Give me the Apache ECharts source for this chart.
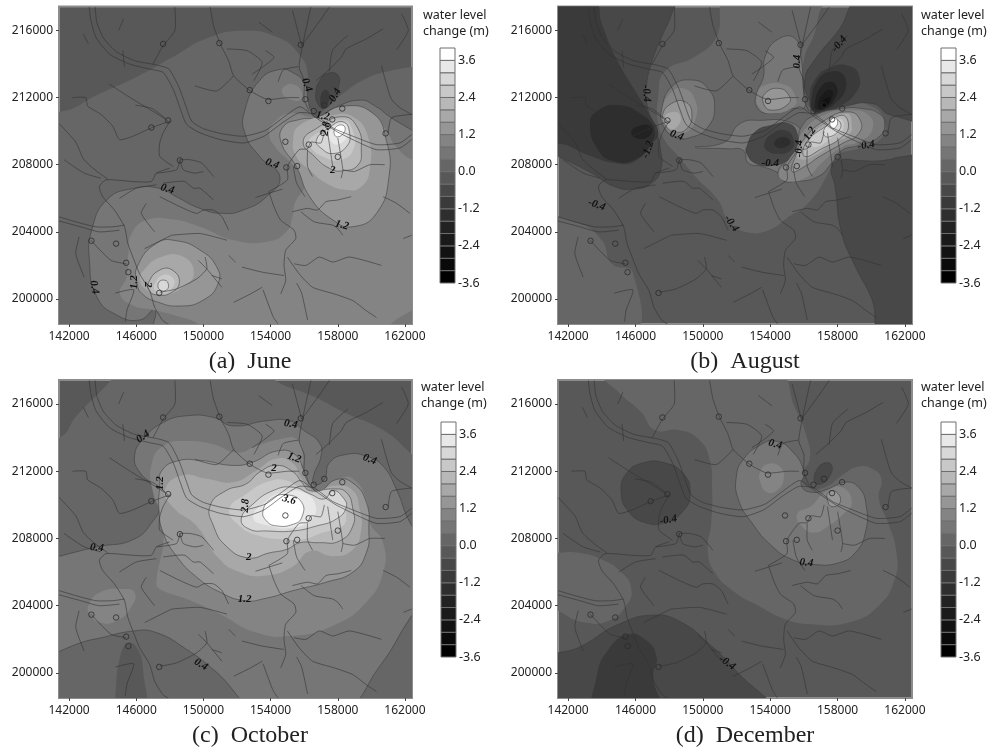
<!DOCTYPE html>
<html><head><meta charset="utf-8">
<style>html,body{margin:0;padding:0;background:#fff}#c{width:991px;height:752px}</style>
<script src="https://cdn.jsdelivr.net/npm/echarts@6/dist/echarts.min.js"></script>
</head><body><div id="c"></div>
<script>
// axis tick values (metres)
const xTicks=[142000,146000,150000,154000,158000,162000];
const yTicks=[200000,204000,208000,212000,216000];
// legend: lower bound of each colour class (m), its grey, and labelled values
const bandLevels=[-3.6,-3.2,-2.8,-2.4,-2.0,-1.6,-1.2,-0.8,-0.4,0,0.4,0.8,1.2,1.6,2.0,2.4,2.8,3.2,3.6];
const bandGreys=['#000','#0a0a0a','#121212','#1a1a1a','#222','#2e2e2e','#3a3a3a','#484848','#585858','#666666','#767676','#848484','#969696','#a8a8a8','#b8b8b8','#c8c8c8','#d8d8d8','#e8e8e8','#fff'];
const legendTicks=[-3.6,-2.4,-1.2,0,1.2,2.4,3.6];
const contourLevels=[-0.8,0.4,1.2,2,2.8,3.6];
// observation wells, km (x,y)
const wells=[147.6,215.2,150.95,215.25,155.8,215.15,152.76,212.45,153.87,211.8,156.07,211.9,156.57,211.2,157.2,211.55,158.27,211.35,157.67,210.7,160.85,209.87,154.88,209.37,156.27,209.2,158,208.47,154.94,207.84,155.58,207.92,148.6,208.26,147.9,210.64,146.9,210.22,143.33,203.47,144.8,203.3,145.4,202.16,145.53,201.6,147.37,200.36];
const juneExtraWells=[157.43,210.3,157.12,209.9];
// river network, km (x,y polylines)
const rivers=[
[143.2,217.4,143.3,216.6,143.6,215.6,144.4,214.6,145.6,214,146.8,213.7,147.6,213.5,148.2,212.5,148.6,211.4,149,210.4,149.8,209.9,151,209.5,152.4,209.3,153.6,209.7,154.7,210.5,155.7,211.1,156.6,211,157.7,210.2,158.9,209.7,160.3,209.2,161.7,209.3,162.4,209.8],
[143.55,217.4,143.65,216.5,144.05,215.55,144.8,214.75,145.9,214.2,147.2,213.95,147.95,213.7,148.55,212.6,148.95,211.5,149.3,210.6,150,210.15,151.1,209.85,152.4,209.7,153.7,210.05,154.8,210.85,155.75,211.45,156.7,210.8,157.9,210,159.1,209.4,160.3,208.9,161.7,209,162.4,209.5],
[141.4,204.9,142.4,204.6,143.6,204.3,144.6,204.3,145.3,204.4],
[141.4,204.65,142.7,204.3,143.8,204,145,204.1],
[148,207.8,147.2,207.5,146.9,207,145.8,207,144.2,207.1,143.8,206.7,144,206.1,144.7,205.3,145.3,204.3,145.5,203.3,145.8,202.5,146.2,201.5,146.8,200.5,147.1,199.5,147.6,198.7,148.1,198.4],
[153.9,206.4,154.2,205.5,154.6,204.7,155.4,204.1,155.5,203.6,154.9,202.9,154.8,202,154.9,201.1,154.6,200.3],
[153.9,206.4,155,207.1,155,207.9,155.7,208.9,156.2,208.95,156.4,209.35,157,209.3,157.2,210],
[155,202.5,155.7,201.5,156.5,200.7,157.8,200.3,158.9,199.9,159.7,199.3,160.3,198.9],
[150.4,217.4,150.6,216.3,151,215.2,151.5,214.2,151.8,213.3,152.8,212.4,153.8,211.9,155,212,155.7,212],
[156.4,217.4,155.9,215.1,155.7,213.8,156,213,156,211.9,156.3,211.2],
[155.3,217.2,155.85,215.1],
[155.85,215.1,156.95,216.6,157.5,217.4],
[156.7,213,157.4,213.6,158.2,214.4,158.5,214.9,159.7,215.5,160.7,216.1],
[157.5,213.55,157.7,214.85,158.6,215.7],
[160.6,213.9,160.9,212.8,161.2,211.9,161.7,211.4,162.4,211],
[161,209.9,161.2,210.8,162.4,211],
[161.8,217,162.2,216,161.5,214.85],
[155.3,205.2,156.2,205.4,156.8,205.3,157.3,205.8,158,205.9,158.8,206.1],
[155.8,205.2,156.6,204.6,157.7,204.4,158,204.2,158.3,203.8],
[158.3,207.7,159,207.6,159.9,208,160.8,208],
[160.7,206.1,161.5,205.7,162.3,205.1],
[155.4,202.1,156.1,202,156.9,202.5,157.7,202.2,158.7,202.5,160.6,202],
[147.4,206.1,148.6,205.5,149.6,205.1,150,205.3,150.6,205.3,151.1,204.9,151.5,204.1],
[146.6,205.7,146.3,205.1,147.1,204],
[147.6,206.9,148.4,207,148.9,207,149.4,206.6,149.8,206.6,150.6,205.9],
[148.6,208.3,149.2,208.3,149.9,208.1,150.6,207.3],
[148.6,208.3,148.8,207.7,149.5,207.5,150,207.6],
[148.6,208.3,148.4,207.7,147.2,207.5],
[148,210.6,147.6,209.9,147.4,209.3,147.4,208.5,148.2,207.9],
[148,210.6,146.9,210.2,145.8,209.7,145,209.5,144.6,210.3,143.9,211,143.1,211.5,143,212,142.2,212],
[148.3,217.4,148.3,216,147.6,215.1,147,214],
[144.4,212.8,145.8,211.9,147.3,211,147.9,210.6],
[151.4,214.9,152.6,214.8,153.5,214.1,153,213],
[149.5,212.7,150.8,212.4,151.8,213.3],
[153.7,214.8,154.2,214.4,153.5,213.8,152.9,213.4],
[155.65,213.85,154.75,213.65,154.45,212.95],
[153.3,216.5,154.1,215.9],
[142.85,215.8,143.15,215.2],
[145.25,216.7,144.95,216],
[145.2,214.8,145.3,213.8],
[157.4,209.9,157.7,207.9],
[158,209.6,158.3,207.7,158.2,207.2],
[156.2,208.9,156.2,207.9,156.5,207.3],
[155.35,207.9,155.55,206.9,156.05,206.1],
[142.6,203.7,142.4,202.7,142.9,201.3],
[143.3,203.5,144.5,202.3,145.4,202.1],
[141.7,208.3,142.9,207.5,143.9,207.2],
[141.4,210.45,142.4,209.35,142.85,208.35,143.6,207.65,144.3,207.15],
[145.95,211.55,146.95,211.35,147.75,210.75],
[145,206,146,206.6,147.2,206.8],
[153.1,206.05,154.7,206.55],
[153.5,200.7,152.8,200.3,151.8,199.8],
[153.55,200.55,154.15,198.95,154.45,198.5],
[147.4,200.4,148.4,200.6,149.6,201.2,150.2,201.8,150.1,202.5],
[150.2,201.8,151.1,200.7],
[150.2,201.8,149.7,202.3],
[150.5,201.4,151.1,201.2],
[151.5,202.6,151.9,202.2],
[152.3,201.9,153.5,201.6,154.8,201.4],
[148.1,203.8,149.8,203.9,151.4,203.5],
[155.55,200.95,155.85,200.35,156.2,198.75],
[144.75,200.35,145.85,200.55,145.45,199.35,145.35,198.65],
[148.1,203.8,146.5,203],
[161.9,203.6,162.4,203.8]
];
// filled classes, km (x,y closed outlines), lowest class first
const juneBands=[
{band:0,pts:[139.9,211.65,141.43,211.16,143.84,212.25,146.22,213.34,148.2,214.43,150.19,215.52,152.37,215.98,154.35,215.62,155.74,214.53,156.23,213.24,156.03,212.45,156.23,211.45,156.73,210.96,157.42,211.49,158.31,212.25,159.7,213.14,160.89,213.54,162.48,213.84,163.66,213.94,163.66,197.76,139.9,197.76]},
{band:-0.8,pts:[157.4,213.45,158,213.35,158.05,212.65,157.7,211.85,157.2,211.35,156.8,211.65,156.7,212.35,156.95,213.05]},
{band:-1.2,pts:[157.2,212.45,157.5,212.25,157.4,211.65,157.1,211.4,156.95,211.85]},
{band:0.4,pts:[154.55,213.68,155.34,213.48,156.03,212.84,156.23,211.85,156.43,211.16,156.73,210.86,157.72,211.35,159.3,211.85,160.3,211.45,161.09,210.86,162.48,210.02,163.66,209.27,163.66,197.76,147.21,197.76,147.11,199.35,146.22,198.75,144.83,199.05,143.65,200.14,143.21,202.32,143.35,204.11,144.24,205.9,145.83,206.59,147.41,206.59,148.4,206.09,149.79,205.4,151.18,205.1,152.37,205.3,153.75,206.09,154.55,207.29,153.36,208.48,152.47,209.87,152.47,211.26,153.36,213.04]},
{band:0.8,pts:[163.66,208.08,162.48,208.28,161.48,209.07,160.89,210.06,160.1,211.06,158.31,211.49,156.73,210.86,155.14,211.06,154.25,210.56,153.91,209.87,154.35,208.97,155.34,207.98,156.03,206.89,155.44,205.7,155.3,204.9,154.94,204.01,153.75,203.41,151.77,203.51,149.79,204.31,148.2,204.74,146.62,204.7,145.73,203.91,145.53,202.72,145.43,201.33,145.03,200.34,145.73,199.64,147.01,199.35,148.2,199.05,149.79,198.45,150.19,197.76,160.69,197.76,161.09,198.45,162.48,199.35,163.66,199.94]},
{band:0.8,pts:[154.75,212.6,155.34,212.8,155.84,212.35,155.74,211.85,155.04,211.95,154.71,212.25]},
{band:1.2,pts:[156.73,210.82,158.31,211.49,160.1,211.06,160.89,209.47,161.05,207.29,160.3,205.1,158.91,204.31,157.72,204.7,156.33,206.09,155.54,207.88,154.65,209.27,154.75,210.26,155.74,210.7]},
{band:1.2,pts:[146.06,201.93,147.21,203.32,148.4,203.47,149.79,202.92,150.78,201.93,150.88,200.93,150,199.94,148.6,199.58,147.21,199.84,146.32,200.34,146.06,200.93]},
{band:1.6,pts:[155.34,209.47,155.74,210.36,157.72,210.96,158.91,210.86,159.8,209.67,159.9,207.68,159.4,206.69,158.51,206.49,157.32,206.89,156.33,207.68,155.54,208.48]},
{band:1.6,pts:[146.46,201.73,147.41,202.48,148.8,202.52,149.43,201.53,148.8,200.73,147.61,200.24,146.62,200.54,146.22,201.13]},
{band:2,pts:[155.94,209.37,156.73,210.16,158.31,210.86,159.2,210.16,159.4,208.87,159.2,207.98,158.31,207.64,157.52,207.78,156.63,208.48]},
{band:2,pts:[146.72,200.93,147.41,201.73,148.2,201.69,148.56,200.93,148.01,200.34,147.31,200.24,146.82,200.44]},
{band:2.4,pts:[156.23,209.37,156.93,209.97,158.31,210.66,158.91,209.97,158.91,208.87,158.11,208.28,157.12,208.48,156.43,208.97]},
{band:2.4,pts:[147.11,200.93,147.61,201.43,148.2,201.23,148.2,200.73,147.61,200.34,147.11,200.54]},
{band:2.8,pts:[156.73,209.47,157.42,210.16,158.31,210.56,158.71,209.87,158.51,209.07,157.72,208.67,157.03,208.97]},
{band:2.8,pts:[147.31,200.93,147.61,201.13,147.9,200.93,147.81,200.54,147.41,200.54]},
{band:3.2,pts:[157.52,209.97,158.31,210.46,158.61,209.97,158.31,209.37,157.72,209.27]},
{band:3.6,pts:[157.82,210.16,158.31,210.36,158.41,209.97,157.92,209.67]}
];
const augustBands=[
{band:0,pts:[151.5,218,157,218,156.85,216.8,156.55,215.6,156.05,214.45,155.95,212.65,156.45,211.25,157.45,210.95,158.65,211.65,160.05,211.45,160.75,210.65,160.65,209.65,159.45,209.05,157.85,208.5,157.45,207.5,156.25,205.7,155.1,204.9,153.9,204.1,152.5,204,151.5,204.7,150.9,205.9,149.55,207.3,148.55,208.5,147.75,209.45,147.35,210.45,147.35,212.05,147.75,213.55,149.55,214.45,150.8,215.6]},
{band:0,pts:[140.6,204.5,142.6,204.5,144,203.5,144.6,202.1,145.85,201.55,145.75,197.75,140.6,197.75]},
{band:-0.8,pts:[140.6,217.8,148.25,217.8,148.15,217,147.55,215.6,146.95,214.05,146.65,212.65,146.7,211.45,147.15,210.25,147.5,208.85,147.5,207.7,146.95,206.9,145.95,206.55,144.75,206.7,143.4,207.5,141.4,208.5,140.6,208.85]},
{band:-1.2,pts:[140.6,217.8,143.5,217.8,144,216.4,144.8,214.45,145.95,212.45,146.85,210.95,147.35,209.85,146.95,209.25,145.95,208.2,144.75,208.1,143.4,208.5,142.2,209.05,140.6,209.85]},
{band:-1.6,pts:[143.3,210.45,143.8,211.25,145,211.55,146.15,211.15,147.05,210.25,146.95,209.25,145.95,208.3,144.75,208.2,143.8,208.85]},
{band:-2,pts:[145.75,209.95,146.35,210.35,146.95,210.25,146.85,209.75,146.15,209.55]},
{band:-0.8,pts:[157.65,207.9,157.85,206.7,158.25,203.9,159.05,201.95,160.05,199.95,160.65,197.75,163.4,197.75,163.4,208.5,162,208.5,160.65,208.25,159.25,208.25,158.25,208.3]},
{band:-0.8,pts:[159.45,218,158.05,216,156.65,214.25,156.05,213.05,156.35,211.85,156.95,211.15,158.25,211.45,160.05,211.65,161.2,210.95,163.4,210.95,163.4,218]},
{band:-1.2,pts:[156.35,212.05,156.65,213.05,157.45,213.75,158.65,213.9,159.3,213.25,159.05,212.25,158.05,211.45,157.15,211.15,156.55,211.15]},
{band:-1.6,pts:[156.45,211.85,156.85,213.05,157.65,213.55,158.35,213.35,158.45,212.45,157.85,211.65,157.15,211.25,156.55,211.25]},
{band:-2,pts:[156.65,211.65,156.95,212.55,157.55,212.95,157.95,212.65,157.85,211.95,157.25,211.35,156.75,211.3]},
{band:-2.4,pts:[156.85,211.65,157.15,212.25,157.6,212.45,157.7,212.05,157.25,211.4,156.95,211.35]},
{band:-2.8,pts:[157.05,211.65,157.3,211.95,157.55,211.95,157.3,211.45]},
{band:-3.2,pts:[157.1,211.6,157.3,211.75,157.35,211.55,157.15,211.45]},
{band:0.4,pts:[147.55,211.25,148.15,212.65,149.35,213.05,150.3,212.55,150.7,211.45,150.3,210.25,149.35,209.65,148.35,209.65,147.65,210.35]},
{band:0.4,pts:[149.55,209.05,151.3,209.35,152.2,210.45,153.5,210.65,155.1,210.55,155.95,209.85,156.05,208.85,156.15,207.7,155.1,207,154.5,207.5,153.5,207.9,152.7,208.1,152.4,208.85,151.5,208.95]},
{band:0.4,pts:[153.7,214.45,154.5,215.5,155.5,215.5,155.85,214.25,155.95,212.65,156.05,211.45,155.3,211.35,153.9,211.05,153.2,211.45,153.2,212.25,153.6,213.25]},
{band:0.4,pts:[155.85,210.25,156.65,210.95,158.25,211.35,159.45,211.35,160.45,211.05,160.8,210.45,160.45,209.65,159.25,209.15,158.25,208.85,157.65,208.1,156.85,207.3,155.5,207,154.7,207.1,154.5,207.7,155.1,208.3,155.6,209.25]},
{band:-0.8,pts:[152.6,209.05,153.1,209.95,154.1,210.35,155.1,210.45,155.6,209.85,155.5,208.85,155.1,208.3,154.1,207.95,153.1,208.1,152.6,208.7]},
{band:-1.2,pts:[153.65,209.25,154.1,209.85,154.9,210.05,155.4,209.45,155.2,208.85,154.5,208.65,153.8,208.85]},
{band:-1.6,pts:[154.25,209.35,154.8,209.65,155.2,209.35,154.9,209.05,154.4,209.05]},
{band:0.8,pts:[147.55,211.05,148.05,212.25,148.85,212.55,149.55,211.85,149.55,210.65,149.05,209.95,148.35,209.85,147.75,210.25]},
{band:0.8,pts:[153.2,212.15,153.7,212.75,154.9,212.75,155.5,212.05,155.4,211.45,154.1,211.05,153.4,211.35]},
{band:0.8,pts:[155.85,209.85,157.15,210.95,158.65,211.25,159.85,210.95,160.05,210.05,159.25,209.35,158.25,209.05,157.05,208.1,156.25,207.3,155.1,207,154.5,207.4,155.1,208.3,155.6,209.05]},
{band:1.2,pts:[147.6,210.95,148.15,211.65,148.95,211.75,149.35,211.05,149.05,210.15,148.35,209.95,147.8,210.3]},
{band:1.2,pts:[153.7,212.25,154.5,212.55,155.1,212.15,155.1,211.65,154.1,211.25,153.6,211.65]},
{band:1.2,pts:[155.95,209.45,157.25,210.65,158.65,211.15,159.35,210.65,159.25,209.85,158.25,209.25,156.95,208.5,156.05,207.9,155.3,207.6,155.5,208.5]},
{band:1.6,pts:[147.75,210.85,148.25,211.15,148.65,210.95,148.55,210.35,148.05,210.15]},
{band:1.6,pts:[156.05,209.35,157.25,210.45,158.55,211.05,158.85,210.35,158.65,209.75,157.85,209.35,156.65,208.55,155.95,208.3,155.6,208.5]},
{band:2,pts:[156.15,209.35,157.25,210.25,158.25,210.95,158.65,210.35,158.25,209.65,157.05,208.95,156.05,208.5]},
{band:2.4,pts:[156.35,209.45,157.45,210.35,158.15,210.75,158.35,210.15,157.85,209.75,156.65,209.05]},
{band:2.8,pts:[157.15,209.95,157.65,210.55,158.05,210.65,158.15,210.15,157.45,209.65]},
{band:3.6,pts:[157.55,210.55,157.85,210.8,158,210.45,157.7,210.15]}
];
const octoberBands=[
{band:0,pts:[139.9,213.9,141.45,214,142.45,215.3,144.65,217.6,144.65,217.9,154,217.9,154.35,217.35,156.55,216.45,158.5,215.45,160.7,214.45,162.3,213.1,163.65,211.75,163.65,197.65,139.9,197.65]},
{band:-0.4,pts:[144.75,197.65,144.75,198.55,145.05,201,145.55,201.8,146.1,201.4,146.4,200.2,146.4,197.65]},
{band:0.4,pts:[139.9,206.55,141.45,206.95,143.65,207.5,145.85,207.95,147,209.05,147.45,210.05,147.2,210.95,146.2,211.95,145.9,212.9,146.4,213.9,147.6,214.9,149,215.3,150.6,215.2,151.75,214.7,153.75,215,155.15,215,155.95,214.45,156.9,213.7,157,212.9,156.55,211.7,156.6,211.2,157.2,211.5,157.5,212.5,158.5,213,159.7,212.9,160.7,212.3,161.5,210.9,162.3,208.95,163.65,206.95,163.65,205,162.4,203.4,160.5,200.4,158.1,197.65,153.55,197.65,150.6,200.2,149,201.4,147.2,202.4,145.85,202.5,143.45,202,139.9,201.4]},
{band:0.8,pts:[143.15,204,143.85,204.8,145.25,205,145.9,204.8,145.75,204,144.85,203.1,143.85,203,143.25,203.5]},
{band:0.8,pts:[147.2,205.4,147.6,207.75,147.5,209.35,147,210.75,146.9,212.35,147.6,213.5,149,213.8,150.6,213.6,152,213.1,153.15,213.5,154.55,213.9,155.55,213.9,155.95,212.8,155.85,211.95,156.75,210.75,158.1,211.55,158.9,211.55,159.7,210.35,159.9,208.95,160.7,207.75,160.7,206,159.7,204.2,157.7,202.8,155.15,202.2,153.15,202.4,150.8,203.6,149,204.4,147.4,205]},
{band:1.2,pts:[147.4,211.15,147.5,212,148.4,212.6,149.8,212.65,151.75,212.35,152.95,212.55,154.35,213.2,155.45,213,156,212,156.45,211.05,156.9,210.8,157.9,211.5,158.9,211.3,159.7,210.15,159.85,208.55,159.7,207.15,158.9,206,157.3,205.4,155.35,204.9,153.75,204.45,152.45,204.3,151,204.8,149.6,205.7,148.4,206.95,147.6,208.35,147.35,209.75]},
{band:1.6,pts:[147.7,210.85,148.7,211.75,150.2,211.55,151.75,211.35,153.15,212.05,154.35,212.75,155.35,212.45,155.85,211.55,156.55,210.85,157.9,211.15,158.9,210.85,159.3,209.75,159.4,208.55,158.9,207.35,157.7,206.95,156.35,207.25,155.35,206.35,153.75,205.8,152.15,206,150.8,206.95,149.6,208.75,148.2,209.85]},
{band:2,pts:[150.4,209.95,151.35,210.85,152.55,211.25,153.35,211.95,154.35,212.35,155.35,211.95,155.85,211.35,156.35,210.85,157.7,210.95,158.5,210.75,158.9,209.75,158.9,208.75,158.1,207.85,156.9,207.75,155.75,207.75,154.95,207.35,153.95,207.15,152.65,206.85,151.35,207.55,150.6,208.75]},
{band:2.4,pts:[151.55,209.75,152.55,210.65,153.75,211.35,154.95,211.45,156.15,210.75,157.7,210.85,158.3,210.35,158.5,209.55,158.3,208.75,157.1,208.35,155.95,207.95,154.75,207.95,153.35,208.15,152.15,208.75]},
{band:2.8,pts:[152.25,209.15,152.95,210.05,154.15,210.85,155.35,211.05,156.35,210.65,157.2,210.35,157.7,210.85,158.3,210.45,158.5,209.85,157.9,209.15,156.75,208.75,155.35,208.45,153.75,208.45,152.75,208.55]},
{band:3.2,pts:[152.95,209.25,153.75,210.25,154.75,210.75,155.95,210.75,156.65,210.05,156.45,209.15,155.35,208.65,153.95,208.75]},
{band:3.6,pts:[153.55,209.65,154.05,210.35,154.95,210.6,155.85,210.15,155.85,209.25,155.35,208.85,154.35,208.75,153.75,209.05]}
];
const decemberBands=[
{band:0,pts:[144,217.9,145,216.7,146.35,215.5,147.15,214.45,148.55,214.45,149.75,213.9,150.4,212.7,150.55,210.95,150.5,208.95,150.3,207.35,150.7,206,151.9,204.8,153.3,204,154.9,203.2,156.45,202.9,158.65,203,160.45,204,161.4,205.6,161.5,207.15,161,208.95,160.45,210.35,160.6,211.55,160.05,212.15,159.15,212.25,158.25,211.75,157.25,211.05,156.25,211.05,155.85,211.75,156.35,212.75,156.15,214.1,155.5,215.7,154.3,217.9]},
{band:0,pts:[140.6,207.15,141.4,207.15,142.6,207.15,144,206.75,145.15,206,145.75,205,145.45,204,144.4,203.1,143,203,141.6,203.6,140.6,204.4]},
{band:-0.8,pts:[145.15,210.75,145.45,211.85,146.45,212.5,147.75,212.5,148.85,211.85,149.25,210.75,148.85,209.65,147.75,208.95,146.55,208.95,145.55,209.65]},
{band:-0.8,pts:[156.65,211.35,156.75,212.05,157.25,212.5,157.65,212.35,157.55,211.75,157.05,211.25]},
{band:-0.8,pts:[140.6,200.6,142.8,201.6,145,202.9,147.15,203.45,148.75,203,150.3,201.8,151.9,200.2,153.9,197.65,140.6,197.65]},
{band:-1.2,pts:[143.7,199.8,144.4,201.4,145.55,202.3,146.55,202,147.25,201,147.05,199.8,147.35,197.65,143.7,197.65]},
{band:0.4,pts:[152,211.75,152.4,212.7,153.3,213.5,154.3,213.8,155.3,213.2,156,211.95,155.85,211.15,156.45,210.75,157.45,210.95,158.45,211.35,159.25,211.05,159.7,209.95,159.65,208.35,159.05,207.15,158.05,206.55,156.65,206.45,155.3,206.75,154.1,207.55,152.9,208.95,152.1,210.35]},
{band:0.8,pts:[153.4,211.95,153.9,212.45,154.6,212.25,154.8,211.55,154.4,210.85,153.8,210.75,153.45,211.25]},
{band:0.8,pts:[155.6,209.45,156.45,209.95,157.25,210.75,158.25,211.05,158.85,210.15,158.25,209.35,157.45,208.75,156.65,208.35,155.95,208.65]},
{band:1.2,pts:[157.45,210.75,157.95,210.75,158.15,210.15,157.65,209.9,157.4,210.3]}
];
// contour labels: x km, y km, text, tilt in degrees
const juneLabels=[[147.85,206.55,'0.4',-15],[154.1,208.05,'0.4',-20],[156.15,212.75,'0.4',-70],[157.8,212.05,'-0.4',60],[157.1,210.9,'1.2',-10],[157.3,210.15,'2.8',80],[157.7,207.7,'2',0],[158.25,204.4,'1.2',-15],[145.9,201,'1.2',90],[146.7,200.85,'2',-90],[143.5,200.7,'0.4',-80]];
const augustLabels=[[158.1,215.2,'-0.4',50],[155.6,214.15,'0.4',90],[146.65,212.25,'-0.4',-85],[148.45,209.75,'0.4',-20],[146.75,208.9,'-1.2',70],[156.35,209.85,'1.2',55],[155.7,208.95,'-0.4',90],[154,208.1,'-0.4',0],[159.7,209.15,'-0.4',10],[143.7,205.6,'-0.4',-20],[151.7,204.5,'-0.4',-55]];
const octoberLabels=[[146.4,214.05,'0.4',35],[155.2,214.8,'0.4',-10],[155.4,212.8,'1.2',-20],[159.9,212.7,'0.4',-20],[154.2,212.2,'2',0],[147.45,211.3,'1.2',90],[155.1,210.3,'3.6',-15],[152.5,209.95,'2.8',85],[143.65,207.45,'0.4',-5],[152.7,206.9,'2',0],[152.45,204.4,'1.2',0],[149.85,200.5,'0.4',-30]];
const decemberLabels=[[154.3,213.6,'0.4',-15],[147.95,209.1,'-0.4',10],[156.15,206.55,'0.4',-5],[151.45,200.6,'-0.4',-35]];

const FONT='"Noto Sans"';
const panels=[
 {cap:'(a)  June',left:59,top:6.5,w:353,h:317.5,lx:440,ly:48,tx:423,ty:8,bands:juneBands,labels:juneLabels,extra:juneExtraWells,cx:250,cy:350},
 {cap:'(b)  August',left:558,top:6.5,w:354,h:317.5,lx:941,ly:48,tx:921,ty:8,bands:augustBands,labels:augustLabels,extra:[],cx:745,cy:350},
 {cap:'(c)  October',left:59,top:380,w:353,h:318,lx:441,ly:422,tx:421,ty:380,bands:octoberBands,labels:octoberLabels,extra:[],cx:250,cy:724},
 {cap:'(d)  December',left:558,top:380,w:354,h:318,lx:941,ly:422,tx:921,ty:380,bands:decemberBands,labels:decemberLabels,extra:[],cx:745,cy:724}
];
const m=k=>k*1000;
const pairs=f=>{const o=[];for(let i=0;i<f.length;i+=2)o.push([m(f[i]),m(f[i+1])]);return o;};
const grey=b=>bandGreys[bandLevels.findIndex(v=>Math.abs(v-b)<1e-6)];
const grid=[],xAxis=[],yAxis=[],series=[],title=[];
panels.forEach((p,i)=>{
 const g=i*2,lg=i*2+1;
 grid.push({left:p.left,top:p.top,width:p.w,height:p.h,show:true,backgroundColor:grey(-0.4),borderColor:'#8c8c8c',borderWidth:2,z:0});
 grid.push({left:p.lx,top:p.ly,width:15,height:235});
 xAxis.push({gridIndex:g,type:'value',min:141400,max:162420,splitLine:{show:false},axisLine:{show:false},
  axisTick:{show:true,length:3,lineStyle:{color:'#444'},customValues:xTicks},
  axisLabel:{customValues:xTicks,margin:7,fontFamily:FONT,fontSize:12,color:'#222',formatter:v=>String(v)}});
 yAxis.push({gridIndex:g,type:'value',min:198510,max:217430,splitLine:{show:false},axisLine:{show:false},
  axisTick:{show:true,length:3,lineStyle:{color:'#444'},customValues:yTicks},
  axisLabel:{customValues:yTicks,margin:6,fontFamily:FONT,fontSize:12,color:'#222',formatter:v=>String(v)}});
 xAxis.push({gridIndex:lg,type:'value',min:0,max:1,show:false});
 yAxis.push({gridIndex:lg,type:'value',min:-3.6,max:4,position:'right',splitLine:{show:false},axisLine:{show:false},axisTick:{show:false},
  axisLabel:{customValues:legendTicks,margin:3,fontFamily:FONT,fontSize:12.5,color:'#222',formatter:v=>v.toFixed(1)}});
 series.push({type:'custom',xAxisIndex:g,yAxisIndex:g,clip:true,silent:true,z:2,data:p.bands.map((b,k)=>[k]),encode:{x:0,y:0},
  renderItem:(params,api)=>{const b=p.bands[params.dataIndex];
   const lined=contourLevels.some(v=>Math.abs(v-b.band)<1e-6);
   return {type:'polygon',shape:{points:pairs(b.pts).map(c=>api.coord(c)),smooth:0.5},
    style:{fill:grey(b.band),stroke:lined?'rgba(60,60,60,0.7)':null,lineWidth:lined?0.8:0}};}});
 series.push({type:'custom',xAxisIndex:g,yAxisIndex:g,clip:true,silent:true,z:3,data:rivers.map((r,k)=>[k]),encode:{x:0,y:0},
  renderItem:(params,api)=>({type:'polyline',shape:{points:pairs(rivers[params.dataIndex]).map(c=>api.coord(c)),smooth:0.2},
   style:{fill:null,stroke:'rgba(50,50,50,0.65)',lineWidth:0.9}})});
 series.push({type:'scatter',xAxisIndex:g,yAxisIndex:g,silent:true,z:4,symbol:'circle',symbolSize:5.5,
  itemStyle:{color:'rgba(0,0,0,0)',borderColor:'#2a2a2a',borderWidth:1},
  data:pairs(wells.concat(p.extra))});
 series.push({type:'custom',xAxisIndex:g,yAxisIndex:g,clip:true,silent:true,z:5,data:p.labels.map((l,k)=>[k]),encode:{x:0,y:0},
  renderItem:(params,api)=>{const l=p.labels[params.dataIndex];const c=api.coord([m(l[0]),m(l[1])]);
   return {type:'text',x:c[0],y:c[1],rotation:l[3]*Math.PI/180,
    style:{text:l[2],fill:'#111',font:'italic bold 11px "Liberation Serif"',textAlign:'center',textVerticalAlign:'middle'}};}});
 series.push({type:'custom',xAxisIndex:lg,yAxisIndex:lg,silent:true,z:2,data:bandLevels.map(v=>[0,v]),encode:{x:0,y:1},
  renderItem:(params,api)=>{const v=bandLevels[params.dataIndex];
   const a=api.coord([0,v+0.4]),b=api.coord([1,v]);
   return {type:'rect',shape:{x:a[0],y:a[1],width:b[0]-a[0],height:b[1]-a[1]},
    style:{fill:bandGreys[params.dataIndex],stroke:'#6e6e6e',lineWidth:1}};}});
 title.push({text:'water level\nchange (m)',left:p.tx,top:p.ty,padding:0,textStyle:{fontFamily:FONT,fontSize:12.5,fontWeight:'normal',color:'#222',lineHeight:15.5}});
 title.push({text:p.cap,left:p.cx,top:p.cy,textAlign:'center',padding:0,textStyle:{fontFamily:'"Liberation Serif"',fontSize:24,fontWeight:'normal',color:'#222'}});
});
const chart=echarts.init(document.getElementById('c'),null,{renderer:'canvas'});
chart.setOption({animation:false,backgroundColor:'#fff',title,grid,xAxis,yAxis,series,tooltip:{show:false}});
</script></body></html>
